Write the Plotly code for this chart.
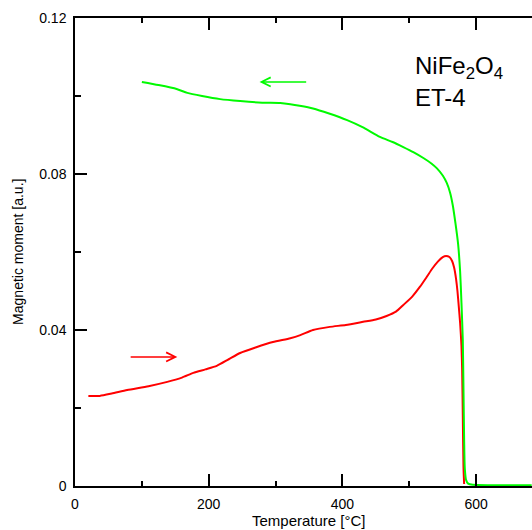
import plotly.graph_objects as go

# Cooling curve (green)
cool_T = [100, 125, 152, 168, 190, 217, 247, 280, 307, 322, 336, 356, 380, 407, 430, 456, 475,
          491, 506, 521, 533, 541, 550, 556, 561, 565, 569, 573, 576, 578, 580, 581, 582, 583,
          585, 588, 595, 620, 660, 683]
cool_M = [0.1036, 0.1028, 0.1018, 0.1008, 0.1000, 0.0992, 0.0987, 0.0983, 0.0982, 0.0979,
          0.0975, 0.0968, 0.0955, 0.0938, 0.0920, 0.0895, 0.0882, 0.0869, 0.0856, 0.0841,
          0.0827, 0.0815, 0.0796, 0.0777, 0.0752, 0.0720, 0.0674, 0.0620, 0.0550, 0.0470,
          0.0374, 0.0250, 0.0118, 0.0045, 0.0015, 0.0006, 0.0003, 0.0002, 0.0002, 0.0002]

# Heating curve (red)
heat_T = [20, 37, 55, 78, 110, 138, 160, 177, 195, 212, 230, 247, 270, 296, 322, 337, 356, 381,
          405, 431, 450, 466, 480, 491, 505, 516, 526, 535, 543, 550, 555, 560, 564, 567, 570,
          572, 574, 576, 578, 579, 580, 581, 582]
heat_M = [0.0231, 0.0231, 0.0237, 0.0246, 0.0256, 0.0267, 0.0278, 0.0290, 0.0299, 0.0308,
          0.0325, 0.0341, 0.0355, 0.0369, 0.0379, 0.0387, 0.0400, 0.0408, 0.0413, 0.0421,
          0.0427, 0.0436, 0.0447, 0.0464, 0.0487, 0.0511, 0.0536, 0.0559, 0.0576, 0.0587,
          0.0590, 0.0587, 0.0577, 0.0560, 0.0530, 0.0500, 0.0460, 0.0418, 0.0360, 0.0300,
          0.0180, 0.0050, 0.0005]

x_ticks = [0, 200, 400, 600]
y_ticks = [0, 0.04, 0.08, 0.12]
y_ticktext = ["0", "0.04", "0.08", "0.12"]

GREEN = "rgb(0,250,0)"
RED = "rgb(255,0,0)"
FONT = "Liberation Sans, Arial, sans-serif"

fig = go.Figure()
fig.add_trace(go.Scatter(x=heat_T, y=heat_M, mode="lines", line_shape="spline",
                         line=dict(color=RED, width=2, smoothing=0.6), showlegend=False))
fig.add_trace(go.Scatter(x=cool_T, y=cool_M, mode="lines", line_shape="spline",
                         line=dict(color=GREEN, width=2, smoothing=0.6), showlegend=False))

axis_common = dict(showgrid=False, zeroline=False, showline=True, linecolor="black",
                   linewidth=1.5, ticks="inside", ticklen=12, tickwidth=1.5,
                   tickcolor="black", tickfont=dict(family=FONT, size=14, color="black"),
                   ticklabelstandoff=4)

fig.update_xaxes(range=[0, 683.5], tickvals=x_ticks, mirror="ticks",
                 minor=dict(dtick=100, ticks="inside", ticklen=5, tickwidth=1.5,
                            tickcolor="black", showgrid=False),
                 **axis_common)
fig.update_yaxes(range=[0, 0.12], tickvals=y_ticks, ticktext=y_ticktext, mirror=False,
                 minor=dict(dtick=0.02, ticks="inside", ticklen=6, tickwidth=1.5,
                            tickcolor="black", showgrid=False),
                 **axis_common)

annotations = [
    dict(text="Temperature [°C]", xref="x", yref="paper", x=350, y=-0.073,
         showarrow=False, font=dict(family=FONT, size=15, color="black"),
         xanchor="center", yanchor="middle"),
    dict(text="Magnetic moment [a.u.]", xref="paper", yref="paper", x=-0.125, y=0.5,
         textangle=-90, showarrow=False, font=dict(family=FONT, size=14, color="black"),
         xanchor="center", yanchor="middle"),
    dict(text="NiFe<sub>2</sub>O<sub>4</sub>", xref="x", yref="y", x=505, y=0.1072,
         showarrow=False, font=dict(family=FONT, size=24, color="black"),
         xanchor="left", yanchor="middle"),
    dict(text="ET-4", xref="x", yref="y", x=505, y=0.0997,
         showarrow=False, font=dict(family=FONT, size=24, color="black"),
         xanchor="left", yanchor="middle"),
    # arrows
    dict(x=276, y=0.1036, ax=348, ay=0.1036, xref="x", yref="y", axref="x", ayref="y",
         text="", showarrow=True, arrowhead=5, arrowsize=1.2, arrowwidth=1.5,
         arrowcolor=GREEN),
    dict(x=153, y=0.0331, ax=81, ay=0.0331, xref="x", yref="y", axref="x", ayref="y",
         text="", showarrow=True, arrowhead=5, arrowsize=1.2, arrowwidth=1.5,
         arrowcolor=RED),
]

fig.update_layout(width=532, height=530, margin=dict(l=75, r=0, t=18, b=44),
                  plot_bgcolor="white", paper_bgcolor="white",
                  annotations=annotations, showlegend=False)

fig.write_html("out.html", config={"displayModeBar": False},
               post_script="document.body.style.margin='0';"
                           "document.body.style.overflow='hidden';")
